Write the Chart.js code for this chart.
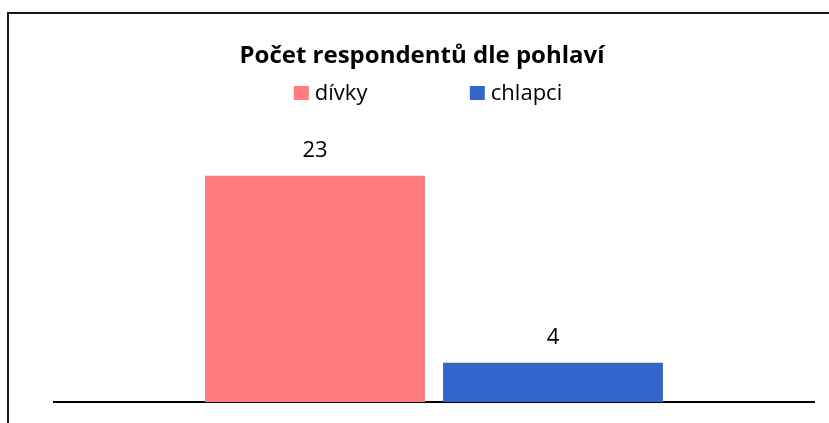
<!DOCTYPE html>
<html>
<head>
<meta charset="utf-8">
<script src="https://cdn.jsdelivr.net/npm/chart.js@4/dist/chart.umd.min.js"></script>
<style>
html,body{margin:0;padding:0;background:#fff;}
#wrap{position:relative;width:829px;height:423px;}
canvas{display:block;}
</style>
</head>
<body>
<div id="wrap"><canvas id="c" width="829" height="423"></canvas></div>
<script>
const chartTitle = 'Počet respondentů dle pohlaví';
const categories = [''];
const seriesNames = ['dívky', 'chlapci'];
const divkyValues = [23];
const chlapciValues = [4];
const seriesColors = ['#FF7C80', '#3366CC'];

const FONT = '"Open Sans", "Noto Sans", sans-serif';

const overlay = {
  id: 'overlay',
  afterDatasetsDraw(chart) {
    const ctx = chart.ctx;
    ctx.save();
    ctx.fillStyle = '#000';
    ctx.font = '22px ' + FONT;
    ctx.textAlign = 'center';
    ctx.textBaseline = 'alphabetic';
    chart.data.datasets.forEach((ds, i) => {
      const meta = chart.getDatasetMeta(i);
      meta.data.forEach((bar, j) => {
        ctx.fillText(String(ds.data[j]), bar.x, bar.y - 19);
      });
    });
    ctx.restore();
  },
  afterDraw(chart) {
    const ctx = chart.ctx;
    ctx.save();
    // outer frame (top and left)
    ctx.strokeStyle = '#1a1a1a';
    ctx.lineWidth = 2;
    ctx.beginPath();
    ctx.moveTo(8, 423);
    ctx.lineTo(8, 13);
    ctx.lineTo(829, 13);
    ctx.stroke();
    // title
    ctx.fillStyle = '#000';
    ctx.font = 'bold 24px ' + FONT;
    ctx.textAlign = 'center';
    ctx.textBaseline = 'alphabetic';
    ctx.fillText(chartTitle, 422, 63);
    // legend
    ctx.font = '22px ' + FONT;
    ctx.textAlign = 'left';
    const stride = 176;
    const ds = chart.data.datasets;
    const lastW = 15 + 6 + ctx.measureText(ds[ds.length - 1].label).width;
    const total = stride * (ds.length - 1) + lastW;
    let x = 428 - total / 2;
    ds.forEach((d) => {
      ctx.fillStyle = d.backgroundColor;
      ctx.fillRect(x, 86, 15, 14);
      ctx.fillStyle = '#000';
      ctx.fillText(d.label, x + 21, 100);
      x += stride;
    });
    ctx.restore();
  }
};

new Chart(document.getElementById('c'), {
  type: 'bar',
  data: {
    labels: categories,
    datasets: [
      { label: seriesNames[0], data: divkyValues, backgroundColor: seriesColors[0] },
      { label: seriesNames[1], data: chlapciValues, backgroundColor: seriesColors[1] }
    ]
  },
  options: {
    responsive: false,
    animation: false,
    layout: { padding: { top: 156, bottom: 13, left: 54, right: 15 } },
    categoryPercentage: 0.6263,
    barPercentage: 0.924,
    plugins: { legend: { display: false }, title: { display: false }, tooltip: { enabled: false } },
    scales: {
      x: {
        display: true,
        grid: { display: false },
        ticks: { display: false },
        border: { display: true, color: '#000', width: 2 }
      },
      y: { display: false, min: 0, max: 25 }
    }
  },
  plugins: [overlay]
});
</script>
</body>
</html>
